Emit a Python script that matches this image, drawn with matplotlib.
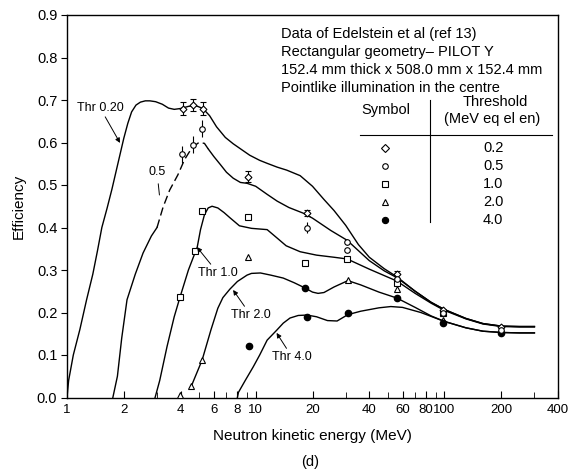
import matplotlib
matplotlib.use('Agg')
import matplotlib.pyplot as plt
from matplotlib import rc

rc('font', **{'family': ['Liberation Sans', 'DejaVu Sans']})

# Curvas calculadas: energía (MeV) y eficiencia para cada umbral
e_thr02 = [1.0, 1.02, 1.08, 1.17, 1.27, 1.37, 1.45, 1.53, 1.63, 1.73, 1.86, 2.0, 2.1,
           2.2, 2.32, 2.45, 2.6, 2.75, 2.95, 3.2, 3.45, 3.7, 4.0, 4.4, 4.8, 5.25, 5.7,
           6.2, 6.9, 7.6, 8.5, 9.3, 10.5, 11.5, 13.0, 14.6, 17.2, 20, 23, 26, 30, 35,
           40, 48, 56, 70, 85, 100, 130, 160, 200, 250, 300]
y_thr02 = [0.0, 0.04, 0.10, 0.16, 0.23, 0.29, 0.345, 0.40, 0.445, 0.49, 0.55, 0.61, 0.645,
           0.672, 0.688, 0.695, 0.698, 0.698, 0.696, 0.69, 0.681, 0.678, 0.68, 0.685, 0.687,
           0.68, 0.663, 0.637, 0.612, 0.597, 0.582, 0.57, 0.558, 0.551, 0.542, 0.535, 0.522,
           0.497, 0.466, 0.44, 0.405, 0.36, 0.33, 0.303, 0.284, 0.25, 0.224, 0.207, 0.186,
           0.174, 0.168, 0.167, 0.167]

# Umbral 0.5: tramo inferior, tramo a trazos y tramo descendente
e_thr05_a = [1.75, 1.85, 1.95, 2.08, 2.3, 2.53, 2.8, 3.0]
y_thr05_a = [0.0, 0.05, 0.14, 0.23, 0.29, 0.34, 0.38, 0.40]
e_thr05_b = [3.0, 3.23, 3.5, 3.87, 4.2, 4.6, 5.0, 5.35, 5.6]
y_thr05_b = [0.40, 0.448, 0.488, 0.524, 0.56, 0.588, 0.60, 0.598, 0.585]
e_thr05_c = [5.6, 6.0, 6.5, 7.0, 7.6, 8.3, 9.0, 10, 11.5, 13, 15, 17.8, 20, 25, 30.5,
             40, 48, 56, 70, 85, 100, 130, 160, 200, 250, 300]
y_thr05_c = [0.585, 0.567, 0.548, 0.53, 0.516, 0.506, 0.504, 0.497, 0.478, 0.462, 0.447,
             0.434, 0.422, 0.393, 0.37, 0.322, 0.298, 0.282, 0.25, 0.224, 0.207, 0.186,
             0.174, 0.168, 0.167, 0.167]

e_thr10 = [2.93, 3.1, 3.39, 3.7, 3.97, 4.4, 4.9, 5.1, 5.35, 5.6, 5.87, 6.3, 6.8, 7.3, 8.2,
           9.5, 11.5, 13, 14.5, 17.2, 21, 26, 30.5, 40, 56, 70, 85, 100, 130, 160, 200,
           250, 300]
y_thr10 = [0.0, 0.04, 0.12, 0.19, 0.236, 0.30, 0.354, 0.395, 0.43, 0.446, 0.45, 0.446,
           0.435, 0.423, 0.404, 0.398, 0.395, 0.375, 0.357, 0.343, 0.335, 0.33, 0.326,
           0.302, 0.274, 0.245, 0.222, 0.205, 0.185, 0.173, 0.167, 0.166, 0.166]

e_thr20 = [4.55, 4.65, 5.2, 5.8, 6.3, 6.7, 7.3, 8.0, 9.0, 9.5, 10.6, 12, 14, 16, 18.2, 20,
           21.4, 23, 26, 30.8, 36, 45, 56, 70, 85, 100, 130, 160, 200, 250, 300]
y_thr20 = [0.025, 0.036, 0.088, 0.16, 0.21, 0.235, 0.255, 0.273, 0.288, 0.292, 0.293,
           0.288, 0.281, 0.27, 0.258, 0.248, 0.245, 0.247, 0.26, 0.275, 0.265, 0.248,
           0.234, 0.212, 0.192, 0.179, 0.164, 0.156, 0.153, 0.152, 0.152]

e_thr40 = [8.0, 8.1, 8.8, 9.7, 10.5, 11.5, 12.9, 14, 15.2, 16.8, 18.7, 21, 24, 27, 30.8,
           36, 45, 52, 60, 75, 100, 130, 160, 200, 250, 300]
y_thr40 = [0.0, 0.012, 0.04, 0.072, 0.10, 0.135, 0.158, 0.175, 0.187, 0.193, 0.194, 0.19,
           0.181, 0.18, 0.195, 0.203, 0.211, 0.214, 0.212, 0.2, 0.179, 0.164, 0.156,
           0.153, 0.152, 0.152]

# Datos experimentales (Edelstein et al)
e_diam = [4.1, 4.65, 5.25, 9.1, 18.7, 56, 98, 200]
y_diam = [0.68, 0.688, 0.68, 0.52, 0.434, 0.29, 0.206, 0.166]
err_diam = [0.015, 0.015, 0.015, 0.014, 0.008, 0.008, 0.0, 0.0]

e_circ = [4.07, 4.65, 5.2, 18.7, 30.5, 30.5, 56, 98, 200]
y_circ = [0.572, 0.595, 0.632, 0.40, 0.366, 0.347, 0.28, 0.198, 0.16]
err_circ = [0.02, 0.02, 0.02, 0.012, 0.008, 0.0, 0.008, 0.0, 0.0]

e_sq = [3.97, 4.77, 5.2, 9.1, 18.3, 30.5, 56, 98]
y_sq = [0.236, 0.345, 0.44, 0.424, 0.316, 0.326, 0.27, 0.2]

e_tri = [3.97, 4.55, 5.2, 9.1, 30.8, 56, 98]
y_tri = [0.006, 0.027, 0.088, 0.33, 0.276, 0.255, 0.182]

e_fill = [9.2, 18.2, 18.7, 30.8, 56, 98, 200]
y_fill = [0.122, 0.258, 0.19, 0.199, 0.235, 0.176, 0.152]

xticks = [1, 2, 4, 6, 8, 10, 20, 40, 60, 80, 100, 200, 400]
xminor = [3, 5, 7, 9, 30, 50, 70, 90, 300]
yticks = [0.0, 0.1, 0.2, 0.3, 0.4, 0.5, 0.6, 0.7, 0.8, 0.9]

tabla_umbral = ['0.2', '0.5', '1.0', '2.0', '4.0']
tabla_marcas = [('D', 'white'), ('o', 'white'), ('s', 'white'), ('^', 'white'), ('o', 'black')]

fig = plt.figure(figsize=(5.72, 4.70), dpi=100)
ax = fig.add_axes([67 / 572, 72.5 / 470, 491 / 572, 382.5 / 470])

# Curvas
lw = 1.0
ax.plot(e_thr02, y_thr02, color='black', lw=lw)
ax.plot(e_thr05_a, y_thr05_a, color='black', lw=lw)
ax.plot(e_thr05_b, y_thr05_b, color='black', lw=lw, dashes=(6, 3))
ax.plot(e_thr05_c, y_thr05_c, color='black', lw=lw)
ax.plot(e_thr10, y_thr10, color='black', lw=lw)
ax.plot(e_thr20, y_thr20, color='black', lw=lw)
ax.plot(e_thr40, y_thr40, color='black', lw=lw)

# Puntos
ax.errorbar(e_diam, y_diam, yerr=err_diam, fmt='D', ms=3.5, mfc='white', mec='black',
            mew=0.8, ecolor='black', elinewidth=0.8, capsize=2.5, zorder=3)
ax.errorbar(e_circ, y_circ, yerr=err_circ, fmt='o', ms=4, mfc='white', mec='black',
            mew=0.8, ecolor='black', elinewidth=0.8, capsize=0, zorder=3)
ax.plot(e_sq, y_sq, 's', ms=4, mfc='white', mec='black', mew=0.8, zorder=3)
ax.plot(e_tri, y_tri, '^', ms=4, mfc='white', mec='black', mew=0.8, zorder=3)
ax.plot(e_fill, y_fill, 'o', ms=4.5, mfc='black', mec='black', zorder=3)

ax.set_xscale('log')
ax.set_xlim(1, 400)
ax.set_ylim(0, 0.9)
ax.set_xticks(xticks)
ax.set_xticklabels([str(t) for t in xticks])
ax.set_xticks(xminor, minor=True)
ax.set_xticklabels([], minor=True)
ax.set_yticks(yticks)
ax.set_yticklabels(['%.1f' % t for t in yticks])
ax.tick_params(axis='x', which='major', direction='in', length=5, labelsize=9.5, pad=5)
ax.tick_params(axis='x', which='minor', direction='in', length=4)
ax.tick_params(axis='y', direction='out', length=4, labelsize=10.5, pad=3)
for s in ax.spines.values():
    s.set_linewidth(1.0)

ax.set_xlabel('Neutron kinetic energy (MeV)', fontsize=11, labelpad=9)
ax.set_ylabel('Efficiency', fontsize=11, labelpad=8)
fig.text(310 / 572, 1 - 462 / 470, '(d)', ha='center', va='center', fontsize=10.5)

# Etiquetas de las curvas
flecha = dict(arrowstyle='-|>', lw=0.7, color='black', mutation_scale=7, shrinkA=0, shrinkB=0)
ax.annotate('Thr 0.20', xy=(1.91, 0.599), xytext=(1.50, 0.681), ha='center', va='center',
            fontsize=9, arrowprops=flecha)
ax.annotate('0.5', xy=(3.1, 0.47), xytext=(3.0, 0.53), ha='center', va='center',
            fontsize=9, arrowprops=dict(arrowstyle='-', lw=0.7, color='black'))
ax.annotate('Thr 1.0', xy=(4.88, 0.354), xytext=(6.3, 0.293), ha='center', va='center',
            fontsize=9, arrowprops=flecha)
ax.annotate('Thr 2.0', xy=(7.59, 0.253), xytext=(9.4, 0.194), ha='center', va='center',
            fontsize=9, arrowprops=flecha)
ax.annotate('Thr 4.0', xy=(12.9, 0.152), xytext=(15.6, 0.095), ha='center', va='center',
            fontsize=9, arrowprops=flecha)

# Texto descriptivo
lineas = ['Data of Edelstein et al (ref 13)',
          'Rectangular geometry\u2013 PILOT Y',
          '152.4 mm thick x 508.0 mm x 152.4 mm',
          'Pointlike illumination in the centre']
for i, l in enumerate(lineas):
    ax.text(0.436, 0.95 - i * 0.047, l, transform=ax.transAxes, fontsize=10.5,
            ha='left', va='center')

# Tabla de símbolos
ax.text(0.65, 0.752, 'Symbol', transform=ax.transAxes, fontsize=10.5, ha='center', va='center')
ax.text(0.872, 0.772, 'Threshold', transform=ax.transAxes, fontsize=10.5, ha='center', va='center')
ax.text(0.865, 0.728, '(MeV eq el en)', transform=ax.transAxes, fontsize=10.5, ha='center', va='center')
ax.plot([0.597, 0.988], [0.686, 0.686], color='black', lw=0.8, transform=ax.transAxes)
ax.plot([0.739, 0.739], [0.778, 0.459], color='black', lw=0.8, transform=ax.transAxes)
for i, (t, (m, c)) in enumerate(zip(tabla_umbral, tabla_marcas)):
    yy = 0.652 - i * 0.047
    ax.plot([0.648], [yy], m, ms=4 if c == 'white' else 4.5, mfc=c, mec='black', mew=0.8,
            transform=ax.transAxes)
    ax.text(0.868, yy, t, transform=ax.transAxes, fontsize=10.5, ha='center', va='center')

fig.savefig('out.png', dpi=100)
